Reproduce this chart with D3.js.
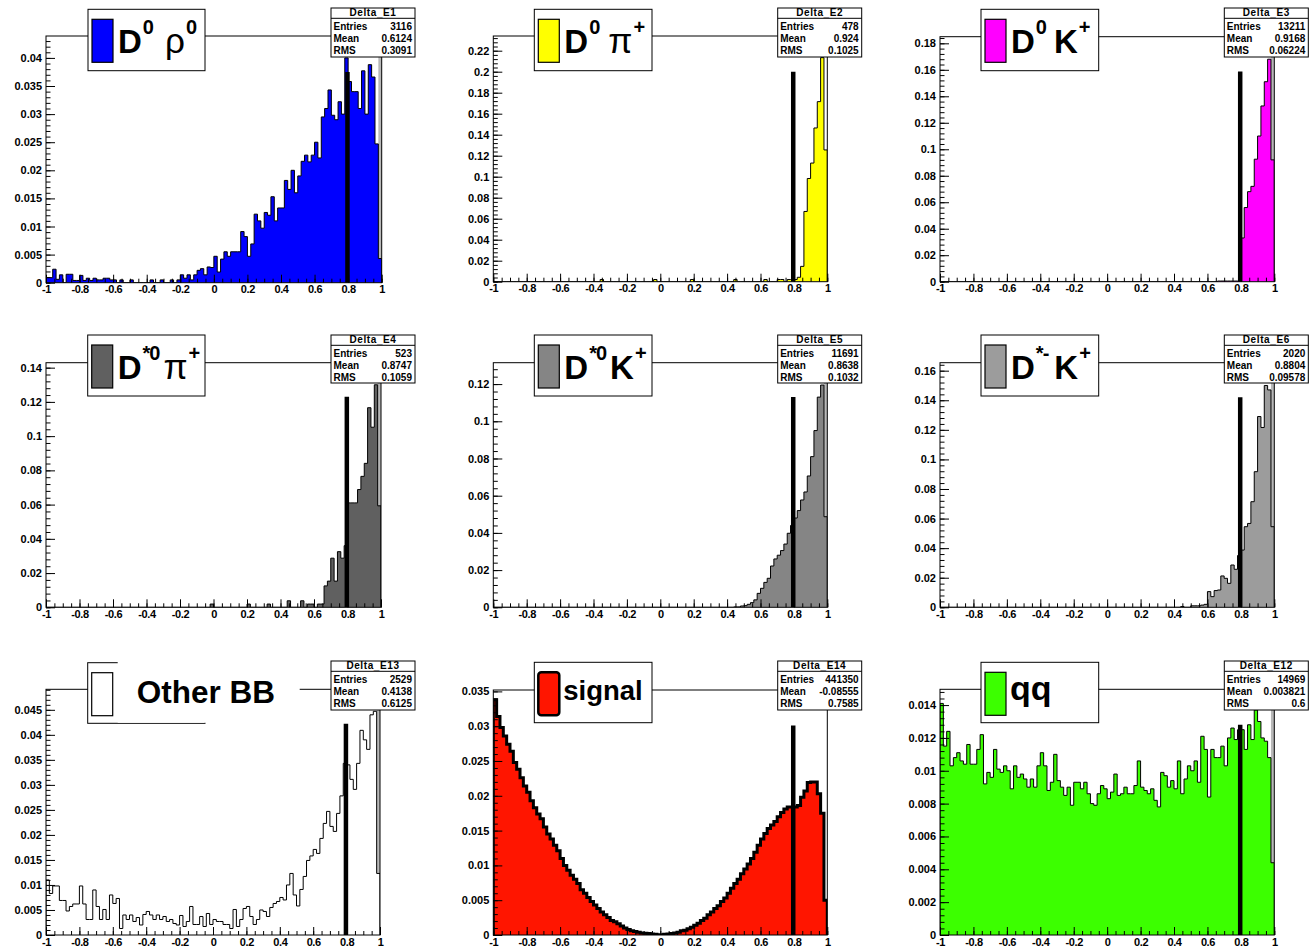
<!DOCTYPE html>
<html><head><meta charset="utf-8">
<script src="https://cdn.jsdelivr.net/npm/d3@7"></script>
<style>
body{margin:0;background:#fff;}
svg text{font-family:"Liberation Sans",Arial,sans-serif;}
</style></head><body>
<svg id="c" width="1313" height="948"></svg>
<script>
// ---------------- DATA ----------------
const binLow = -1, binHigh = 1, nBins = 100;

const valsDrho = [0.0009,0.0009,0.0024,0.0006,0.0014,0,0.0015,0.0015,0.0004,0.0004,
 0.0013,0.0004,0.0008,0.0004,0.0008,0.0005,0.0005,0.0008,0.0008,0.0005,
 0.0005,0,0.0005,0,0,0.0005,0,0,0,0,
 0,0.0005,0,0,0.0005,0,0,0.0005,0,0.0005,
 0.0014,0.0008,0.0014,0.0005,0.0014,0.0022,0.0025,0.0014,0.0028,0.0027,
 0.0047,0.0019,0.0042,0.0055,0.0047,0.0055,0.0055,0.0055,0.0091,0.0082,
 0.0047,0.0069,0.0122,0.0110,0.0097,0.0125,0.0120,0.0153,0.0110,0.0133,
 0.0133,0.0182,0.0166,0.0200,0.0160,0.0190,0.0216,0.0227,0.0215,0.0227,
 0.0250,0.0222,0.0295,0.0310,0.0343,0.0298,0.0290,0.0322,0.0300,0.0400,
 0.0358,0.0340,0.0340,0.0310,0.0377,0.0300,0.0388,0.0366,0.0247,0.0043];

const valsDpi = [0,0,0,0,0,0,0,0,0,0, 0,0,0,0,0,0,0,0,0,0, 0,0,0,0,0,0,0,0,0,0,
 0,0,0.0021,0,0,0,0,0,0,0, 0,0,0,0,0,0,0,0,0.0021,0, 0,0,0,0,0,0,0,0,0,0.0021,
 0,0,0,0,0,0,0,0,0,0, 0,0,0.0021,0,0,0,0,0,0,0, 0,0.0021,0,0,0,0.0021,0.0021,0,0.0021,0.0021,
 0.0021,0.0042,0.0146,0.0669,0.0983,0.1130,0.1464,0.1715,0.2134,0.1255];

const valsDK = [0,0,0,0,0,0,0,0,0,0, 0,0,0,0,0,0,0,0,0,0, 0,0,0,0,0,0,0,0,0,0,
 0,0,0,0,0,0,0,0,0,0, 0,0,0,0,0,0,0,0,0,0, 0,0,0,0,0,0,0,0,0,0,
 0,0,0,0,0,0,0,0,0,0, 0,0,0,0,0,0,0,0,0,0, 0,0,0,0.0005,0.0005,0.0005,0.0005,0.0005,0.0005,0.0005,
 0.0330,0.0560,0.0680,0.0720,0.0925,0.1100,0.1327,0.1510,0.1680,0.0920];

const valsDstPi = [0,0,0,0,0,0,0,0,0,0, 0,0,0,0,0,0,0,0,0,0, 0,0,0,0,0,0,0,0,0,0,
 0,0,0,0,0,0,0,0,0,0, 0,0,0,0,0,0,0,0,0,0.0019, 0,0,0,0,0,0,0,0,0,0,
 0.0019,0,0,0,0,0,0.0019,0,0,0, 0,0,0.0038,0,0,0,0.0038,0,0.0019,0.0019,
 0,0.0019,0.0019,0.0125,0.0153,0.0287,0.0153,0.0325,0.0287,0.0360,
 0.0610,0.0610,0.0610,0.0688,0.0765,0.0841,0.1166,0.1052,0.1300,0.0593];

const valsDstK = [0,0,0,0,0,0,0,0,0,0, 0,0,0,0,0,0,0,0,0,0, 0,0,0,0,0,0,0,0,0,0,
 0,0,0,0,0,0,0,0,0,0, 0,0,0,0,0,0,0,0,0,0, 0,0,0,0,0,0,0,0,0,0,
 0,0,0,0,0,0,0,0,0,0, 0,0,0.0002,0.0002,0.0007,0.0009,0.0016,0.0025,0.0040,0.0075,
 0.0102,0.0134,0.0156,0.0222,0.0260,0.0280,0.0305,0.0340,0.0398,0.0440,
 0.0480,0.0520,0.0577,0.0620,0.0706,0.0810,0.0950,0.1130,0.1195,0.0487];

const valsDstmK = [0,0,0,0,0,0,0,0,0,0, 0,0,0,0,0,0,0,0,0,0, 0,0,0,0,0,0,0,0,0,0,
 0,0,0,0,0,0,0,0,0,0, 0,0,0,0,0,0,0,0,0,0, 0,0,0,0,0,0,0,0,0,0,
 0,0,0,0,0,0,0,0,0,0, 0,0,0.0005,0,0,0.0010,0.0010,0.0010,0.0015,0.0020,
 0.0106,0.0072,0.0113,0.0117,0.0212,0.0196,0.0162,0.0286,0.0257,0.0350,
 0.0387,0.0545,0.0567,0.0714,0.0917,0.1290,0.1216,0.1500,0.1470,0.0545];

const valsOther = [0.0110,0.0083,0.0098,0.0098,0.0069,0.0069,0.0048,0.0057,0.0062,0.0062,
 0.0098,0.0062,0.0031,0.0031,0.0090,0.0057,0.0031,0.0051,0.0031,0.0080,
 0.0063,0.0073,0.0013,0.0040,0.0031,0.0040,0.0027,0.0035,0.0020,0.0041,
 0.0047,0.0040,0.0031,0.0040,0.0031,0.0037,0.0027,0.0031,0.0023,0.0020,
 0.0039,0.0017,0.0027,0.0057,0.0021,0.0021,0.0037,0.0017,0.0043,0.0021,
 0.0031,0.0027,0.0027,0.0021,0.0021,0.0013,0.0051,0.0017,0.0031,0.0053,
 0.0057,0.0037,0.0021,0.0031,0.0050,0.0047,0.0037,0.0055,0.0063,0.0067,
 0.0075,0.0070,0.0100,0.0123,0.0080,0.0058,0.0091,0.0117,0.0149,0.0158,
 0.0171,0.0163,0.0193,0.0223,0.0247,0.0217,0.0207,0.0243,0.0278,0.0343,
 0.0340,0.0311,0.0291,0.0343,0.0409,0.0390,0.0371,0.0440,0.0447,0.0123];

const valsSignal = [0.0338,0.0314,0.0298,0.0286,0.0274,0.0264,0.0248,0.0238,0.0226,0.0214,
 0.0205,0.0193,0.0183,0.0174,0.0167,0.0155,0.0145,0.0138,0.0129,0.0121,
 0.0110,0.0100,0.0093,0.0086,0.0080,0.0074,0.0065,0.0060,0.0054,0.0048,
 0.0043,0.0038,0.0033,0.0029,0.0025,0.0021,0.0019,0.0016,0.0013,0.0010,
 0.0008,0.0006,0.0005,0.0004,0.0003,0.00025,0.0002,0.00015,0.0001,0.00005,
 0.00005,0.0001,0.00015,0.0002,0.0003,0.0004,0.0006,0.0007,0.0009,0.0011,
 0.0014,0.0017,0.0021,0.0024,0.0029,0.0033,0.0038,0.0042,0.0048,0.0053,
 0.0060,0.0067,0.0074,0.0080,0.0088,0.0095,0.0102,0.0110,0.0119,0.0129,
 0.0138,0.0146,0.0153,0.0158,0.0163,0.0170,0.0176,0.0181,0.0184,0.0184,
 0.0184,0.0186,0.0198,0.0207,0.0219,0.0220,0.0220,0.0203,0.0175,0.0050];

const valsQQ = [0.0141,0.0115,0.0124,0.0103,0.0108,0.0111,0.0106,0.0104,0.0116,0.0104,
 0.0104,0.0113,0.0122,0.0092,0.0099,0.0096,0.0113,0.0101,0.0099,0.0103,
 0.0100,0.0089,0.0103,0.0096,0.0098,0.0095,0.0090,0.0095,0.0090,0.0103,
 0.0111,0.0103,0.0088,0.0093,0.0110,0.0094,0.0090,0.0085,0.0090,0.0079,
 0.0093,0.0093,0.0089,0.0093,0.0086,0.0080,0.0079,0.0086,0.0091,0.0089,
 0.0083,0.0087,0.0098,0.0085,0.0086,0.0090,0.0086,0.0086,0.0091,0.0106,
 0.0090,0.0088,0.0086,0.0089,0.0082,0.0078,0.0099,0.0097,0.0090,0.0094,
 0.0089,0.0106,0.0086,0.0095,0.0103,0.0100,0.0106,0.0093,0.0121,0.0113,
 0.0084,0.0113,0.0108,0.0108,0.0115,0.0103,0.0120,0.0126,0.0119,0.0125,
 0.0125,0.0113,0.0128,0.0119,0.0137,0.0130,0.0120,0.0118,0.0108,0.0044];

const seriesValues = [valsDrho, valsDpi, valsDK, valsDstPi, valsDstK, valsDstmK, valsOther, valsSignal, valsQQ];
const histNames = ["Delta_E1","Delta_E2","Delta_E3","Delta_E4","Delta_E5","Delta_E6","Delta_E13","Delta_E14","Delta_E12"];
const statLabels = ["Entries","Mean","RMS"];
const entries = ["3116","478","13211","523","11691","2020","2529","441350","14969"];
const means = ["0.6124","0.924","0.9168","0.8747","0.8638","0.8804","0.4138","-0.08555","0.003821"];
const rmsVals = ["0.3091","0.1025","0.06224","0.1059","0.1032","0.09578","0.6125","0.7585","0.6"];
const yMaxes = [0.0439,0.234,0.185,0.1429,0.1315,0.1654,0.0491,0.0352,0.01496];
const yMajorSteps = [0.005,0.02,0.02,0.02,0.02,0.02,0.005,0.005,0.002];
const cutHeights = [0.0375,0.2,0.1587,0.123,0.113,0.142,0.0422,0.0301,0.0128];
const cutPosition = 0.796;
const xTickValues = [-1,-0.8,-0.6,-0.4,-0.2,0,0.2,0.4,0.6,0.8,1];
const fillColors = ["#0000ff","#ffff00","#ff00ff","#606060","#858585","#9c9c9c","#ffffff","#ff1500","#3cff00"];
// legend label pieces: t = text, sup = superscript, greek = symbol font, gap = space before piece
const legendLabels = [
  [{t:"D"},{t:"0",sup:1},{t:"ρ",greek:1,gap:12},{t:"0",sup:1}],
  [{t:"D"},{t:"0",sup:1},{t:"π",greek:1,gap:9},{t:"+",sup:1}],
  [{t:"D"},{t:"0",sup:1},{t:"K",gap:8},{t:"+",sup:1}],
  [{t:"D"},{t:"*0",sup:1},{t:"π",greek:1,gap:4},{t:"+",sup:1}],
  [{t:"D"},{t:"*0",sup:1},{t:"K",gap:4},{t:"+",sup:1}],
  [{t:"D"},{t:"*-",sup:1},{t:"K",gap:6},{t:"+",sup:1}],
  [{t:"Other BB",special:1}],
  [{t:"signal",plain:1}],
  [{t:"qq",plain:1}]
];

// ---------------- LAYOUT ----------------
const layouts = [
 {fx0:46, fx1:381.7, fy0:36, fy1:282.7, lx:88, ly:9.3, lw:117, lh:61.4, sx:331, sy:8, sw:84, sh:49},
 {fx0:493.3, fx1:827.3, fy0:36, fy1:281.7, lx:534.3, ly:9.3, lw:117.7, lh:61.4, sx:777.7, sy:8, sw:84, sh:49},
 {fx0:940, fx1:1274.3, fy0:36.7, fy1:281.7, lx:981, ly:9.3, lw:117.7, lh:61.4, sx:1224.3, sy:8, sw:84, sh:49},
 {fx0:46, fx1:381, fy0:362.7, fy1:607.3, lx:87.7, ly:335, lw:117.3, lh:61, sx:331, sy:335, sw:84, sh:48},
 {fx0:493.3, fx1:827.3, fy0:362.7, fy1:607.3, lx:534.3, ly:335, lw:117.7, lh:61, sx:777.7, sy:335, sw:84, sh:48},
 {fx0:940, fx1:1274.3, fy0:362.7, fy1:607.3, lx:981, ly:335, lw:117.7, lh:61, sx:1224.3, sy:335, sw:84, sh:48},
 {fx0:46, fx1:380, fy0:689.3, fy1:935, lx:87.7, ly:662.7, lw:117.3, lh:60.6, sx:331, sy:661, sw:84, sh:49},
 {fx0:493.3, fx1:827.3, fy0:690, fy1:935, lx:534.3, ly:662.3, lw:117.7, lh:60.4, sx:777.7, sy:661, sw:84, sh:49},
 {fx0:940, fx1:1274.3, fy0:689.3, fy1:935, lx:981, ly:662.3, lw:117.7, lh:60.4, sx:1224.3, sy:661, sw:84, sh:49}
];

const svg = d3.select("#c");
const binW = (binHigh - binLow) / nBins;
const fmtY = d => String(+(+d).toPrecision(6));
const fmtX = d => String(Math.round(d * 10) / 10);

function styleAxis(g, size) {
  g.attr("font-family", "Liberation Sans, Arial, sans-serif").attr("font-size", size)
   .attr("font-weight", "bold");
  g.select(".domain").remove();
  g.selectAll(".tick line").attr("stroke", "#000");
  g.selectAll(".tick text").attr("fill", "#000");
}

seriesValues.forEach((vals, idx) => {
  const L = layouts[idx];
  const g = svg.append("g");
  const x = d3.scaleLinear([binLow, binHigh], [L.fx0, L.fx1]);
  const y = d3.scaleLinear([0, yMaxes[idx]], [L.fy1, L.fy0]);

  const clipId = "clip" + idx;
  svg.append("clipPath").attr("id", clipId).append("rect")
    .attr("x", L.fx0).attr("y", L.fy0).attr("width", L.fx1 - L.fx0).attr("height", L.fy1 - L.fy0);

  const pts = [[binLow, 0]];
  vals.forEach((v, i) => {
    const a = binLow + i * binW, b = binLow + (i + 1) * binW;
    pts.push([a, v], [b, v]);
  });
  pts.push([binHigh, 0]);

  const plot = g.append("g").attr("clip-path", `url(#${clipId})`);

  const lastV = vals[vals.length - 1];
  if (idx !== 1 && idx !== 7) {
    plot.append("rect")
      .attr("x", x(binHigh - binW)).attr("y", L.fy0)
      .attr("width", x(binHigh) - x(binHigh - binW))
      .attr("height", y(lastV) - L.fy0)
      .attr("fill", "#b8b8b8");
  }

  plot.append("path").datum(pts)
    .attr("d", d3.area().x(d => x(d[0])).y0(y(0)).y1(d => y(d[1])))
    .attr("fill", fillColors[idx]);
  plot.append("path").datum(pts)
    .attr("d", d3.line().x(d => x(d[0])).y(d => y(d[1])))
    .attr("fill", "none").attr("stroke", "#000")
    .attr("stroke-width", idx === 7 ? 3 : 1).attr("stroke-linejoin", "miter");

  plot.append("path").datum([[cutPosition, 0], [cutPosition, cutHeights[idx]]])
    .attr("d", d3.line().x(d => x(d[0])).y(d => y(d[1])))
    .attr("stroke", "#000").attr("stroke-width", 4.5);

  g.append("rect").attr("x", L.fx0).attr("y", L.fy0)
    .attr("width", L.fx1 - L.fx0).attr("height", L.fy1 - L.fy0)
    .attr("fill", "none").attr("stroke", "#000").attr("stroke-width", 1);

  const step = yMajorSteps[idx];
  const nMaj = Math.floor(yMaxes[idx] / step + 1e-9);
  const nMin = Math.floor(yMaxes[idx] / (step / 5) + 1e-9);
  const yMajor = d3.range(nMaj + 1).map(i => i * step);
  const yMinor = d3.range(nMin + 1).map(i => i * step / 5);
  g.append("g").attr("transform", `translate(${L.fx0},0)`)
    .call(d3.axisLeft(y).tickValues(yMinor).tickSize(-4.5).tickSizeOuter(0).tickFormat(""))
    .call(a => styleAxis(a, 11));
  g.append("g").attr("transform", `translate(${L.fx0},0)`)
    .call(d3.axisLeft(y).tickValues(yMajor).tickSize(-9).tickSizeOuter(0).tickPadding(4).tickFormat(fmtY))
    .call(a => styleAxis(a, 11));

  const xMinor = d3.range(41).map(i => binLow + i * 0.05);
  g.append("g").attr("transform", `translate(0,${L.fy1})`)
    .call(d3.axisBottom(x).tickValues(xMinor).tickSize(-4).tickSizeOuter(0).tickFormat(""))
    .call(a => styleAxis(a, 11));
  g.append("g").attr("transform", `translate(0,${L.fy1})`)
    .call(d3.axisBottom(x).tickValues(xTickValues).tickSize(-8).tickSizeOuter(0).tickPadding(3).tickFormat(fmtX))
    .call(a => { styleAxis(a, 11); a.selectAll(".tick text").attr("letter-spacing", "-0.4"); });

  const lg = g.append("g");
  lg.append("rect").attr("x", L.lx).attr("y", L.ly).attr("width", L.lw).attr("height", L.lh)
    .attr("fill", "#fff").attr("stroke", "#000").attr("stroke-width", 1);
  const sw = lg.append("rect").attr("x", L.lx + 4).attr("y", L.ly + 10).attr("width", 21).attr("height", 43)
    .attr("fill", fillColors[idx]).attr("stroke", "#000");
  if (idx === 7) sw.attr("rx", 3).attr("stroke-width", 2.5);
  else sw.attr("stroke-width", 1.2);

  const pieces = legendLabels[idx];
  if (pieces[0].special) {
    lg.append("rect").attr("x", L.lx + 30).attr("y", L.ly - 8).attr("width", 182).attr("height", L.lh + 7.5)
      .attr("fill", "#fff");
    lg.append("text").attr("x", L.lx + 49).attr("y", L.ly + 40.6)
      .attr("font-family", "Open Sans, Liberation Sans, sans-serif").attr("font-weight", 700)
      .attr("font-size", 31.5).text(pieces[0].t);
  } else if (pieces[0].plain) {
    lg.append("text").attr("x", L.lx + 29).attr("y", L.ly + 37.7)
      .attr("font-weight", "bold").attr("font-size", idx === 7 ? 27.5 : 34).text(pieces[0].t);
  } else {
    let cx = L.lx + 30;
    const base = L.ly + 44;
    pieces.forEach(p => {
      if (p.gap) cx += p.gap;
      const t = lg.append("text").attr("x", cx).attr("y", p.sup ? base - 19 : base).text(p.t);
      if (p.sup) t.attr("font-size", 20).attr("font-weight", "bold").attr("letter-spacing", "-1");
      else if (p.greek) t.attr("font-size", 35).attr("font-family", "Liberation Serif, serif");
      else t.attr("font-size", 33).attr("font-weight", "bold");
      cx += t.node().getComputedTextLength() + (p.sup ? 0 : 1);
    });
  }

  const sg = g.append("g");
  sg.append("rect").attr("x", L.sx).attr("y", L.sy).attr("width", L.sw).attr("height", L.sh)
    .attr("fill", "#fff").attr("stroke", "#000").attr("stroke-width", 1);
  sg.append("line").attr("x1", L.sx).attr("x2", L.sx + L.sw).attr("y1", L.sy + 10.3).attr("y2", L.sy + 10.3)
    .attr("stroke", "#000");
  sg.append("text").attr("x", L.sx + L.sw / 2).attr("y", L.sy + 8.3).attr("text-anchor", "middle")
    .attr("font-size", 10).attr("font-weight", "bold").attr("letter-spacing", "0.6").text(histNames[idx]);
  const statVals = [entries[idx], means[idx], rmsVals[idx]];
  statLabels.forEach((lab, r) => {
    const by = L.sy + 21.5 + r * 12.2;
    sg.append("text").attr("x", L.sx + 2.5).attr("y", by).attr("font-size", 10).attr("font-weight", "bold").text(lab);
    sg.append("text").attr("x", L.sx + L.sw - 3).attr("y", by).attr("text-anchor", "end")
      .attr("font-size", 10).attr("font-weight", "bold").text(statVals[r]);
  });
});
</script>
</body></html>
